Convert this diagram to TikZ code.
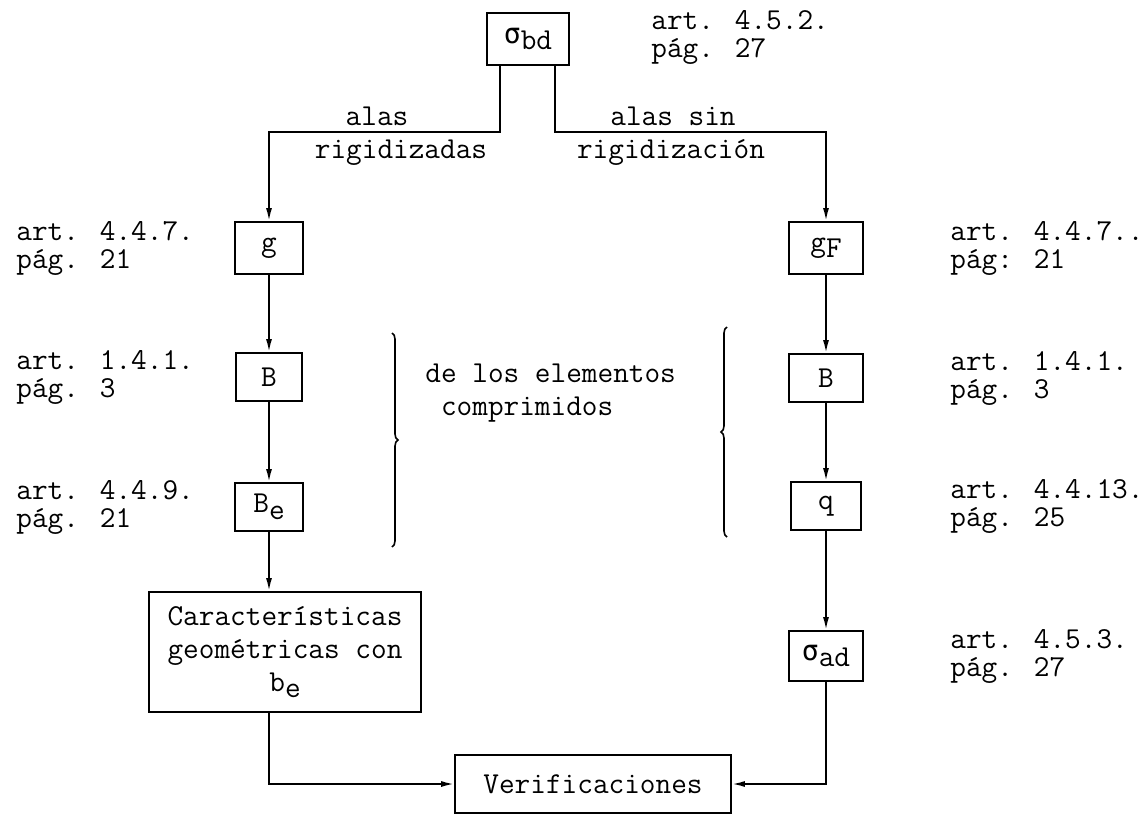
\documentclass[tikz,border=0pt]{standalone}
\usepackage{fontspec}
\newfontfamily\grk{DejaVu Sans Mono}
\usepackage{tikz}
\usetikzlibrary{arrows.meta,decorations.pathreplacing,calc}

\newcommand{\lowr}[1]{\raisebox{-0.5ex}{#1}}
\newcommand{\sgm}{{\grk\fontsize{14}{14}\selectfont σ}}

\tikzset{
  box/.style={draw, line width=0.9pt, inner sep=0pt, align=center},
  arr/.style={line width=0.9pt, -{Latex[length=6.5pt,width=3pt]}},
  lbl/.style={anchor=west, inner sep=0pt, align=left, font=\ttfamily\fontsize{15.2}{14}\selectfont},
  brc/.style={decorate, decoration={brace, amplitude=3pt}, line width=0.8pt},
}

\begin{document}
\begin{tikzpicture}[x=0.5pt, y=-0.5pt, font=\ttfamily\fontsize{15.2}{16.5}\selectfont]
		\useasboundingbox (0,0) rectangle (1142,814);

		% boxes
		\node[box, minimum width=41pt, minimum height=26pt] (sbd) at (528,39) {\sgm\lowr{bd}};
		\node[box, minimum width=34pt, minimum height=26pt] (g) at (269,248) {g};
		\node[box, minimum width=33pt, minimum height=24pt] (bl) at (269,377) {B};
		\node[box, minimum width=34pt, minimum height=24pt] (be) at (269,507) {B\lowr{e}};
		\node[box, minimum width=136pt, minimum height=60pt] (car) at (285,652) {Características\\geométricas con\\b\lowr{e}};
		\node[box, minimum width=37pt, minimum height=26pt] (gf) at (826,248) {g\lowr{F}};
		\node[box, minimum width=37pt, minimum height=24pt] (br) at (826,378) {B};
		\node[box, minimum width=35pt, minimum height=24pt] (q) at (826,506) {q};
		\node[box, minimum width=37pt, minimum height=25pt] (sad) at (826,656) {\sgm\lowr{ad}};
		\node[box, minimum width=138pt, minimum height=29pt] (verif) at (593,784) {Verificaciones};

		% branches
		\coordinate (fork) at (528,132);
		\coordinate (fl) at ([xshift=-14pt]sbd.south);
		\coordinate (fr) at ([xshift=13.5pt]sbd.south);
		\draw[arr] (fl) -- (fl |- fork) -| (g);
		\draw[arr] (fr) -- (fr |- fork) -| (gf);

		\node[anchor=base] (alas) at (377,125) {alas};
		\node[anchor=base] (rigl) at (401,158) {rigidizadas};
		\node[anchor=base] (alassin) at (673,125) {alas sin};
		\node[anchor=base] (rigr) at (671,158) {rigidización};

		% columns
		\draw[arr] (g) -- (bl);
		\draw[arr] (bl) -- (be);
		\draw[arr] (be) -- (be |- car.north);
		\draw[arr] (be |- car.south) |- (verif);

		\draw[arr] (gf) -- (br);
		\draw[arr] (br) -- (q);
		\draw[arr] (q) -- (sad);
		\draw[arr] (sad) |- (verif);

		% braces
		\draw[brc] (392,333) -- (392,547);
		\draw[brc] (727,537) -- (727,327);
		\node[anchor=west, align=left, inner sep=0pt] (elem) at (425,393) {de los elementos\\\hphantom{d}comprimidos};

		% references
		\node[lbl] (l-sbd) at (651,37) {art. 4.5.2.\\pág. 27};
		\node[lbl] (l-g) at (16,248) {art. 4.4.7.\\pág. 21};
		\node[lbl] (l-bl) at (16,377) {art. 1.4.1.\\pág. 3};
		\node[lbl] (l-be) at (16,507) {art. 4.4.9.\\pág. 21};
		\node[lbl] (l-gf) at (950,248) {art. 4.4.7..\\pág: 21};
		\node[lbl] (l-br) at (950,378) {art. 1.4.1.\\pág. 3};
		\node[lbl] (l-q) at (950,506) {art. 4.4.13.\\pág. 25};
		\node[lbl] (l-sad) at (950,656) {art. 4.5.3.\\pág. 27};
	\end{tikzpicture}
\end{document}
